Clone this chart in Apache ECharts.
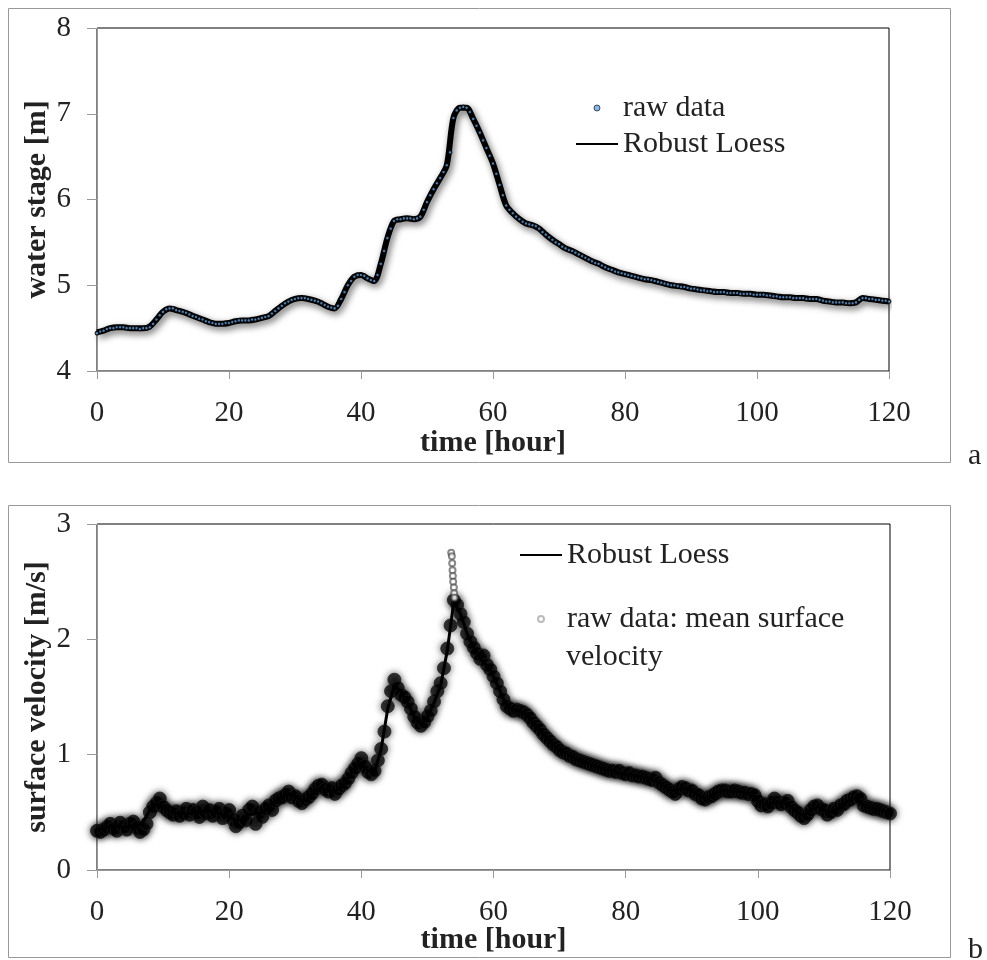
<!DOCTYPE html>
<html>
<head>
<meta charset="utf-8">
<script src="https://cdn.jsdelivr.net/npm/echarts@6/dist/echarts.min.js"></script>
<style>html,body{margin:0;padding:0;background:#fff}#c{width:987px;height:960px}</style>
</head>
<body>
<div id="c"></div>
<script>
// time step of the raw records (hours) and of the loess curve (hours)
var rawStep = 0.5;
var loessStep = 1;
var xTicks = [0, 20, 40, 60, 80, 100, 120];

// Panel a: water stage [m]
var stageRaw = [
4.44,4.46,4.47,4.49,4.50,4.50,4.51,4.51,4.51,4.50,
4.50,4.50,4.50,4.49,4.50,4.50,4.51,4.55,4.60,4.65,
4.69,4.72,4.73,4.73,4.71,4.70,4.69,4.68,4.66,4.64,
4.63,4.61,4.60,4.58,4.57,4.56,4.55,4.55,4.55,4.56,
4.56,4.57,4.58,4.59,4.59,4.59,4.59,4.60,4.60,4.61,
4.62,4.63,4.64,4.67,4.70,4.73,4.76,4.79,4.81,4.83,
4.84,4.85,4.85,4.85,4.84,4.83,4.82,4.81,4.79,4.77,
4.75,4.74,4.73,4.76,4.84,4.92,5.00,5.05,5.10,5.12,
5.12,5.11,5.08,5.06,5.05,5.12,5.25,5.40,5.55,5.66,
5.75,5.77,5.77,5.78,5.78,5.78,5.77,5.78,5.80,5.88,
5.97,6.05,6.12,6.19,6.25,6.32,6.40,6.55,6.95,7.04,
7.07,7.08,7.07,7.02,6.94,6.86,6.78,6.69,6.60,6.51,
6.42,6.30,6.17,6.05,5.93,5.88,5.84,5.80,5.77,5.74,
5.72,5.71,5.70,5.69,5.66,5.62,5.59,5.56,5.53,5.50,
5.48,5.45,5.43,5.41,5.40,5.38,5.36,5.34,5.32,5.30,
5.28,5.26,5.25,5.23,5.21,5.19,5.18,5.16,5.15,5.14,
5.13,5.12,5.11,5.10,5.09,5.08,5.07,5.07,5.06,5.05,
5.04,5.03,5.02,5.01,5.00,5.00,4.99,4.98,4.98,4.97,
4.96,4.96,4.95,4.94,4.94,4.93,4.93,4.92,4.92,4.92,
4.92,4.91,4.91,4.91,4.91,4.90,4.90,4.90,4.90,4.89,
4.89,4.89,4.89,4.88,4.88,4.87,4.87,4.86,4.86,4.86,
4.86,4.85,4.85,4.85,4.85,4.84,4.84,4.84,4.84,4.83,
4.82,4.81,4.81,4.80,4.80,4.80,4.80,4.79,4.79,4.79,
4.80,4.83,4.85,4.85,4.84,4.84,4.83,4.83,4.82,4.82,
4.81];
var stageLoess = [
4.45,4.47,4.50,4.51,4.51,4.50,4.50,4.50,4.52,4.60,
4.69,4.73,4.71,4.69,4.66,4.63,4.60,4.57,4.55,4.55,
4.56,4.58,4.59,4.59,4.60,4.62,4.64,4.70,4.76,4.81,
4.84,4.85,4.84,4.82,4.79,4.75,4.73,4.84,5.00,5.10,
5.12,5.08,5.05,5.25,5.55,5.75,5.77,5.78,5.77,5.80,
5.97,6.12,6.25,6.40,6.95,7.07,7.07,6.94,6.78,6.60,
6.42,6.17,5.93,5.84,5.77,5.72,5.70,5.66,5.59,5.53,
5.48,5.43,5.40,5.36,5.32,5.28,5.25,5.21,5.18,5.15,
5.13,5.11,5.09,5.07,5.06,5.04,5.02,5.00,4.99,4.98,
4.96,4.95,4.94,4.93,4.92,4.92,4.91,4.91,4.90,4.90,
4.89,4.89,4.88,4.87,4.86,4.86,4.85,4.85,4.84,4.84,
4.82,4.81,4.80,4.80,4.79,4.80,4.85,4.84,4.83,4.82,
4.81];

// Panel b: surface velocity [m/s]
var velRaw = [
.34,.33,.35,.37,.40,.36,.34,.41,.38,.35,
.40,.42,.37,.33,.35,.40,.50,.55,.58,.62,
.55,.52,.50,.48,.51,.47,.49,.53,.48,.52,
.50,.46,.55,.49,.52,.47,.50,.53,.45,.49,
.52,.44,.38,.41,.47,.43,.52,.55,.40,.50,
.46,.53,.56,.52,.60,.62,.63,.65,.68,.63,
.64,.60,.58,.61,.63,.66,.70,.73,.74,.70,
.68,.71,.66,.70,.73,.75,.79,.84,.88,.92,
.97,.90,.85,.83,.86,.95,1.05,1.20,1.42,1.55,
1.65,1.58,1.52,1.50,1.46,1.40,1.33,1.28,1.25,1.28,
1.33,1.38,1.46,1.55,1.62,1.75,1.92,2.12,2.34,2.30,
2.22,2.15,2.05,1.98,1.93,1.88,1.83,1.86,1.78,1.74,
1.68,1.62,1.55,1.48,1.42,1.40,1.38,1.39,1.38,1.37,
1.35,1.32,1.28,1.25,1.22,1.18,1.15,1.12,1.09,1.07,
1.04,1.02,1.01,0.99,0.98,0.96,0.95,0.94,0.93,0.92,
0.91,0.90,0.89,0.88,0.87,0.86,0.86,0.85,0.86,0.84,
0.83,0.84,0.82,0.82,0.81,0.81,0.80,0.79,0.78,0.80,
0.76,0.74,0.72,0.70,0.68,0.66,0.70,0.72,0.71,0.69,
0.69,0.66,0.65,0.62,0.61,0.63,0.64,0.66,0.68,0.69,
0.69,0.68,0.68,0.69,0.68,0.67,0.67,0.66,0.66,0.65,
0.60,0.56,0.57,0.55,0.58,0.62,0.59,0.57,0.58,0.60,
0.55,0.52,0.50,0.47,0.45,0.48,0.52,0.55,0.56,0.53,
0.52,0.48,0.50,0.53,0.52,0.56,0.57,0.60,0.61,0.63,
0.64,0.62,0.56,0.55,0.54,0.53,0.53,0.52,0.51,0.50,
0.49];
// isolated spike readings near the velocity peak (hour, m/s)
var velSpikeT = [53.6, 53.7, 53.75, 53.8, 53.85, 53.9, 54.0, 54.05, 54.1];
var velSpikeV = [2.75, 2.72, 2.66, 2.60, 2.55, 2.50, 2.45, 2.40, 2.36];
var velLoess = [
.35,.36,.38,.38,.37,.38,.37,.42,.52,.57,
.54,.51,.49,.49,.49,.50,.51,.51,.50,.48,
.46,.43,.44,.48,.49,.50,.55,.60,.63,.66,
.64,.60,.62,.68,.71,.69,.68,.72,.80,.88,
.93,.86,.85,1.05,1.40,1.60,1.55,1.45,1.33,1.26,
1.32,1.45,1.60,1.90,2.33,2.22,2.05,1.93,1.83,1.77,
1.68,1.55,1.42,1.39,1.38,1.35,1.28,1.22,1.15,1.09,
1.04,1.01,0.98,0.95,0.93,0.91,0.89,0.87,0.86,0.84,
0.83,0.82,0.81,0.80,0.78,0.76,0.72,0.69,0.70,0.71,
0.69,0.65,0.62,0.64,0.68,0.69,0.68,0.68,0.67,0.66,
0.60,0.57,0.58,0.59,0.58,0.55,0.50,0.47,0.52,0.55,
0.52,0.50,0.52,0.57,0.61,0.62,0.56,0.54,0.53,0.51,
0.49];

function pairs(arr, step) { return arr.map(function (v, i) { return [i * step, v]; }); }
function zipPairs(ts, vs) { return ts.map(function (t, i) { return [t, vs[i]]; }); }

var FONT = "'Liberation Serif', 'Times New Roman', serif";
var tickFont = { fontFamily: FONT, fontSize: 29, color: '#222' };
var titleFont = { fontFamily: FONT, fontSize: 30, fontWeight: 'bold', color: '#222' };
var LINE_ICON = 'path://M0,0 L42,0 L42,2 L0,2 Z';

function xAxisFor(gi) {
  return {
    type: 'value', gridIndex: gi, min: 0, max: 120, interval: 20,
    name: 'time [hour]', nameLocation: 'middle', nameGap: gi === 0 ? 57 : 55, nameMoveOverlap: false,
    nameTextStyle: titleFont,
    axisLine: { show: true, onZero: false, lineStyle: { color: '#999', width: 1 } },
    axisTick: { show: true, inside: false, length: 8, lineStyle: { color: '#999' } },
    axisLabel: Object.assign({ margin: 28, formatter: function (v) { return xTicks.indexOf(v) >= 0 ? String(v) : ''; } }, tickFont),
    splitLine: { show: false }
  };
}
function yAxisFor(gi, mn, mx, name) {
  return {
    type: 'value', gridIndex: gi, min: mn, max: mx, interval: 1,
    name: name, nameLocation: 'middle', nameGap: 45, nameMoveOverlap: false, nameTextStyle: titleFont,
    axisLine: { show: true, lineStyle: { color: '#999', width: 1 } },
    axisTick: { show: true, inside: false, length: 10, lineStyle: { color: '#999' } },
    axisLabel: Object.assign({ margin: 26 }, tickFont),
    splitLine: { show: false }
  };
}

var chart = echarts.init(document.getElementById('c'), null, { renderer: 'canvas' });
chart.setOption({
  animation: false,
  backgroundColor: '#fff',
  grid: [
    { left: 97, top: 28, width: 792, height: 343, show: true, borderColor: '#000', borderWidth: 1, backgroundColor: 'transparent' },
    { left: 97, top: 524, width: 793, height: 346, show: true, borderColor: '#000', borderWidth: 1, backgroundColor: 'transparent' }
  ],
  xAxis: [xAxisFor(0), xAxisFor(1)],
  yAxis: [yAxisFor(0, 4, 8, 'water stage [m]'), yAxisFor(1, 0, 3, 'surface velocity [m/s]')],
  legend: [
    {
      left: 571, top: 88, orient: 'vertical', itemGap: 6, itemWidth: 42, itemHeight: 6,
      textStyle: { fontFamily: FONT, fontSize: 30, color: '#222' },
      data: [
        { name: 'raw data', icon: 'circle', itemStyle: { color: '#6fa3d8', borderColor: '#1a2a40', borderWidth: 1 } },
        { name: 'Robust Loess', icon: LINE_ICON, itemStyle: { color: '#000', borderWidth: 0 } }
      ]
    },
    {
      left: 515, top: 535, orient: 'vertical', itemGap: 34, itemWidth: 42, itemHeight: 6,
      textStyle: { fontFamily: FONT, fontSize: 30, color: '#222' },
      data: [
        { name: 'Robust Loess', icon: LINE_ICON, itemStyle: { color: '#000', borderWidth: 0 } },
        { name: 'raw data: mean surface', icon: 'emptyCircle', itemStyle: { color: '#aaa', borderColor: '#aaa', borderWidth: 1 } }
      ]
    }
  ],
  series: [
    {
      name: 'Robust Loess', type: 'line', xAxisIndex: 0, yAxisIndex: 0,
      data: pairs(stageLoess, loessStep), showSymbol: false, symbol: 'none', smooth: 0.3,
      itemStyle: { color: '#000' },
      lineStyle: { color: '#000', width: 6, shadowBlur: 7, shadowColor: 'rgba(0,0,0,0.6)', shadowOffsetX: 2, shadowOffsetY: 3 },
      z: 2
    },
    {
      name: 'raw data', type: 'scatter', xAxisIndex: 0, yAxisIndex: 0,
      data: pairs(stageRaw, rawStep), symbol: 'circle', symbolSize: 3.6,
      itemStyle: { color: '#6a9fd8', borderColor: '#000', borderWidth: 1.3 },
      z: 3
    },
    {
      name: 'raw data: mean surface', type: 'scatter', xAxisIndex: 1, yAxisIndex: 1,
      data: pairs(velRaw, rawStep), symbol: 'circle', symbolSize: 13,
      itemStyle: { color: 'rgba(0,0,0,0.9)', borderColor: '#222', borderWidth: 1, shadowBlur: 7, shadowColor: 'rgba(0,0,0,0.8)' },
      z: 2
    },
    {
      name: 'raw data: mean surface', type: 'scatter', xAxisIndex: 1, yAxisIndex: 1,
      data: zipPairs(velSpikeT, velSpikeV), symbol: 'emptyCircle', symbolSize: 6,
      itemStyle: { color: 'rgba(70,70,70,0.8)', borderColor: 'rgba(70,70,70,0.8)', borderWidth: 1 },
      z: 4
    },
    {
      name: 'Robust Loess', type: 'line', xAxisIndex: 1, yAxisIndex: 1,
      data: pairs(velLoess, loessStep), showSymbol: false, symbol: 'none',
      itemStyle: { color: '#000' },
      lineStyle: { color: '#000', width: 3 },
      z: 3
    }
  ],
  graphic: [
    { type: 'rect', shape: { x: 8.5, y: 8.5, width: 942, height: 454 }, style: { fill: 'none', stroke: '#999', lineWidth: 1 }, z: -1 },
    { type: 'rect', shape: { x: 8.5, y: 505.5, width: 942, height: 452 }, style: { fill: 'none', stroke: '#999', lineWidth: 1 }, z: -1 },
    { type: 'text', left: 968, top: 441, style: { text: 'a', font: '30px ' + FONT, fill: '#222' } },
    { type: 'text', left: 968, top: 935, style: { text: 'b', font: '30px ' + FONT, fill: '#222' } },
    { type: 'text', left: 566, top: 642, style: { text: 'velocity', font: '30px ' + FONT, fill: '#222' } }
  ]
});
</script>
</body>
</html>
